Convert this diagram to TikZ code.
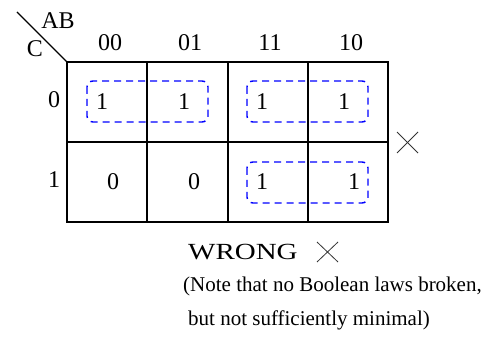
\documentclass[tikz,border=0pt]{standalone}
\usepackage{fontspec}
\setmainfont{Liberation Serif}
\begin{document}
\begin{tikzpicture}[x=1pt,y=-1pt,
  gridline/.style={line width=1.6pt,black},
  grp/.style={blue,line width=1.4pt,dash pattern=on 7pt off 5pt,rounded corners=6pt},
  cross/.style={line width=0.8pt,black!80},
  dig/.style={inner sep=0pt,font=\fontsize{24}{26}\selectfont},
  txt/.style={inner sep=0pt,font=\fontsize{21}{24}\selectfont}]
\useasboundingbox (0,0) rectangle (496,350);
% grid
\coordinate (g00) at (67,62);
\coordinate (g11) at (388,222);
\draw[gridline] (g00) rectangle (g11);
\draw[gridline] (147,62) -- (147,222);
\draw[gridline] (228,62) -- (228,222);
\draw[gridline] (308,62) -- (308,222);
\draw[gridline] (67,142) -- (388,142);
% diagonal
\coordinate (d0) at (17,12);
\draw[line width=1.1pt] (d0) -- (g00);
\node[dig] (ab) at (58,21) {AB};
\node[dig] (c) at (35,49) {C};
% column labels
\node[dig] (c00) at (110,43) {00};
\node[dig] (c01) at (190,43) {01};
\node[dig] (c11) at (270,43) {11};
\node[dig] (c10) at (351,43) {10};
% row labels
\node[dig] (r0) at (54,100) {0};
\node[dig] (r1) at (54,180) {1};
% cells
\node[dig] (v00) at (102,102) {1};
\node[dig] (v01) at (184,102) {1};
\node[dig] (v02) at (262,102) {1};
\node[dig] (v03) at (344,102) {1};
\node[dig] (v10) at (113,182) {0};
\node[dig] (v11) at (194,182) {0};
\node[dig] (v12) at (262,182) {1};
\node[dig] (v13) at (354,182) {1};
% groups
\draw[grp] (87,81) rectangle (208,122);
\draw[grp] (247,81) rectangle (368,122);
\draw[grp] (247,162) rectangle (368,203);
% cross right of map
\draw[cross] (397,132) -- (418,153);
\draw[cross] (397,153) -- (418,132);
% text
\node[txt,anchor=base west] (wrong) at (188,259) {\scalebox{1.38}[1.1]{WRONG}};
\draw[cross] (317,242) -- (338,262);
\draw[cross] (317,262) -- (338,242);
\node[txt,anchor=base west] (note1) at (183,291) {(Note that no Boolean laws broken,};
\node[txt,anchor=base west] (note2) at (188,326) {but not sufficiently minimal)};
\end{tikzpicture}
\end{document}
